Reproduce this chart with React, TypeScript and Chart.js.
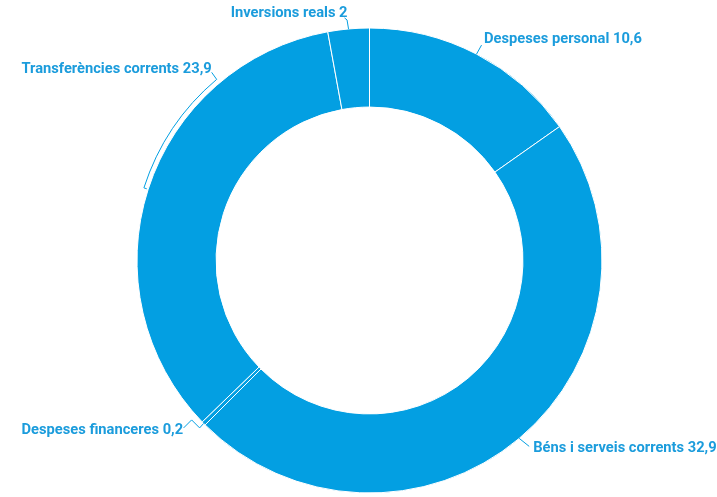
import React, { useEffect, useRef } from "react";
import { Chart, registerables } from "chart.js";

Chart.register(...registerables);

const categories = [
  "Despeses personal",
  "Béns i serveis corrents",
  "Despeses financeres",
  "Transferències corrents",
  "Inversions reals",
];
const values = [10.6, 32.9, 0.2, 23.9, 2];
const valueLabels = ["10,6", "32,9", "0,2", "23,9", "2"];

const BLUE = "#039fe2";
const TEXT_BLUE = "#1b9cdc";

// layout of the callouts (offsets relative to each slice's outer mid-point)
type Layout = {
  kind: "path" | "bracket";
  path?: number[][];
  sweepDeg?: number;
  gap?: number;
  tail?: number[];
  text: number[];
  align: CanvasTextAlign;
};
const LABEL_LAYOUT: Layout[] = [
  { kind: "path", path: [[0, 0], [5, -9]], text: [7.5, -15], align: "left" },
  { kind: "path", path: [[0, 0], [10, 8]], text: [14, 9.5], align: "left" },
  { kind: "path", path: [[0, 0], [-4, 4.5], [-12, -3.5], [-20, 4.5]], text: [-20.5, 6.5], align: "right" },
  { kind: "bracket", sweepDeg: 32, gap: 4.5, tail: [-5, -7], text: [-5, -10], align: "right" },
  { kind: "path", path: [[0, 0], [-1.5, -9], [-4, -11]], text: [-1, -16], align: "right" },
];

const calloutPlugin = {
  id: "callouts",
  afterDraw(chart: any) {
    const ctx = chart.ctx as CanvasRenderingContext2D;
    const meta = chart.getDatasetMeta(0);
    ctx.save();
    ctx.strokeStyle = BLUE;
    ctx.fillStyle = TEXT_BLUE;
    ctx.lineWidth = 1;
    ctx.font = "bold 14.7px Roboto";
    ctx.textBaseline = "middle";
    meta.data.forEach((arc: any, i: number) => {
      const p = arc.getProps(["x", "y", "startAngle", "endAngle", "outerRadius"], true);
      const mid = (p.startAngle + p.endAngle) / 2;
      const ax = p.x + p.outerRadius * Math.cos(mid);
      const ay = p.y + p.outerRadius * Math.sin(mid);
      const L = LABEL_LAYOUT[i];
      const text = `${categories[i]} ${valueLabels[i]}`;
      if (L.kind === "path" && L.path) {
        ctx.beginPath();
        L.path.forEach((pt, k) => {
          if (k === 0) ctx.moveTo(ax + pt[0], ay + pt[1]);
          else ctx.lineTo(ax + pt[0], ay + pt[1]);
        });
        ctx.stroke();
        ctx.textAlign = L.align;
        ctx.fillText(text, ax + L.text[0], ay + L.text[1]);
      } else {
        const r = p.outerRadius + (L.gap || 4);
        const end = mid + ((L.sweepDeg || 30) * Math.PI) / 180;
        const ex = p.x + r * Math.cos(end);
        const ey = p.y + r * Math.sin(end);
        ctx.beginPath();
        ctx.moveTo(ax + 1.5 * Math.cos(mid), ay + 1.5 * Math.sin(mid));
        ctx.lineTo(p.x + r * Math.cos(mid), p.y + r * Math.sin(mid));
        ctx.arc(p.x, p.y, r, mid, end, false);
        ctx.lineTo(ex + (L.tail || [0, 0])[0], ey + (L.tail || [0, 0])[1]);
        ctx.stroke();
        ctx.textAlign = L.align;
        ctx.fillText(text, ex + L.text[0], ey + L.text[1]);
      }
    });
    ctx.restore();
  },
};

export default function App() {
  const ref = useRef<HTMLCanvasElement>(null);
  useEffect(() => {
    if (!ref.current) return;
    const chart = new Chart(ref.current, {
      type: "doughnut",
      data: {
        labels: categories,
        datasets: [
          {
            data: values,
            backgroundColor: BLUE,
            borderColor: "#ffffff",
            borderWidth: 1,
          },
        ],
      },
      options: {
        responsive: false,
        animation: false,
        cutout: "66%",
        layout: { padding: { left: 22, right: 0, top: 27.5, bottom: 3.5 } },
        plugins: {
          legend: { display: false },
          tooltip: { enabled: false },
        },
      },
      plugins: [calloutPlugin],
    });
    return () => chart.destroy();
  }, []);
  return (
    <div style={{ position: "absolute", left: 0, top: 0, width: 717, height: 497, background: "#fff" }}>
      <canvas ref={ref} width={717} height={497} style={{ display: "block" }} />
    </div>
  );
}
